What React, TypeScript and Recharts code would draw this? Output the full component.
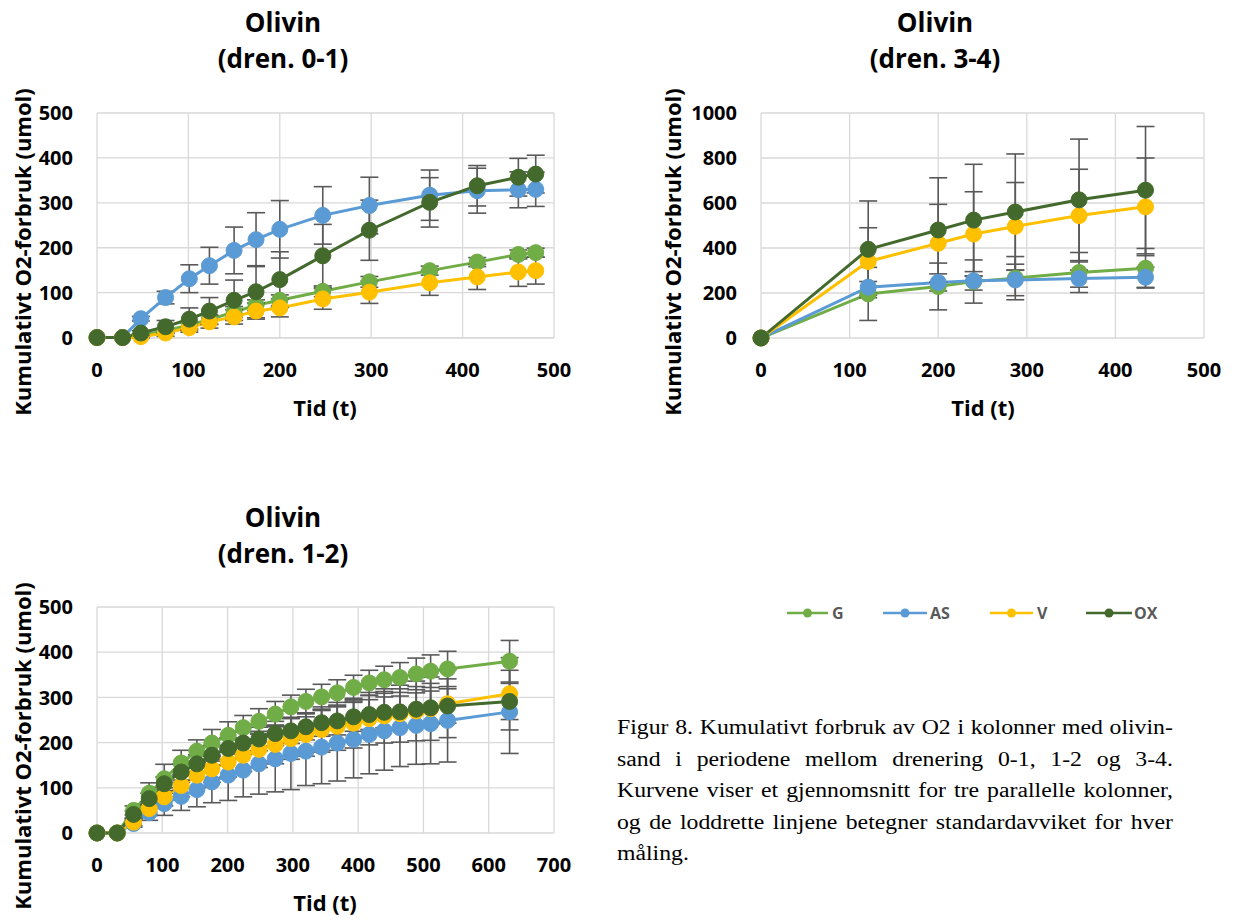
import React from 'react';
import { LineChart, Line, XAxis, YAxis, CartesianGrid, ErrorBar } from 'recharts';

const FONT = "'Open Sans', sans-serif";
const SERIF = "'Liberation Serif', 'Times New Roman', serif";

const SERIES = ['G', 'AS', 'V', 'OX'];
const COLORS: Record<string, string> = { G: '#70AD47', AS: '#5B9BD5', V: '#FFC000', OX: '#436A2C' };
const ERR_COLOR = '#595959';
const GRID_COLOR = '#D9D9D9';

// ---- Olivin (dren. 0-1)
const T1 = [0, 28, 48, 75, 101, 123, 150, 174, 200, 247, 298, 364, 416, 461, 480];
const G1 = [0, 0, 5, 15, 28, 40, 57, 72, 83, 103, 124, 149, 168, 185, 189];
const AS1 = [0, 0, 42, 89, 131, 160, 194, 218, 241, 272, 294, 317, 327, 329, 330];
const V1 = [0, 0, 2, 10, 22, 35, 46, 59, 66, 86, 101, 122, 135, 146, 149];
const OX1 = [0, 0, 10, 24, 41, 59, 83, 102, 129, 182, 239, 301, 338, 357, 364];
const G1e = [0, 0, 3, 6, 8, 10, 12, 12, 12, 12, 12, 10, 10, 10, 10];
const AS1e = [0, 0, 5, 14, 31, 41, 52, 60, 64, 64, 63, 56, 50, 40, 38];
const V1e = [0, 0, 3, 7, 10, 14, 16, 18, 20, 23, 25, 28, 28, 32, 30];
const OX1e = [0, 0, 5, 14, 25, 30, 45, 58, 62, 70, 67, 55, 45, 42, 42];

// ---- Olivin (dren. 3-4)
const T2 = [0, 121, 200, 240, 287, 359, 434];
const G2 = [0, 196, 229, 251, 266, 291, 310];
const AS2 = [0, 226, 247, 254, 258, 264, 270];
const V2 = [0, 340, 421, 462, 496, 544, 583];
const OX2 = [0, 394, 480, 524, 560, 614, 657];
const G2e = [0, 118, 104, 96, 96, 89, 88];
const AS2e = [0, 25, 38, 41, 70, 38, 45];
const V2e = [0, 150, 173, 188, 195, 206, 217];
const OX2e = [0, 215, 232, 248, 258, 270, 283];

// ---- Olivin (dren. 1-2)
const T3 = [0, 31, 56, 80, 103, 129, 153, 176, 201, 224, 248, 273, 297, 320, 344, 368, 393, 417, 440, 464, 489, 511, 537, 632];
const G3 = [0, 0, 50, 88, 120, 155, 181, 199, 216, 233, 247, 263, 279, 291, 301, 310, 322, 332, 339, 344, 352, 358, 363, 380];
const AS3 = [0, 0, 21, 45, 65, 81, 96, 113, 128, 139, 153, 164, 176, 181, 190, 199, 207, 218, 226, 233, 238, 242, 249, 268];
const V3 = [0, 0, 24, 54, 80, 105, 128, 142, 157, 172, 185, 196, 209, 218, 229, 236, 243, 253, 259, 264, 270, 275, 286, 308];
const OX3 = [0, 0, 41, 76, 109, 135, 153, 172, 187, 199, 208, 220, 226, 235, 244, 248, 257, 262, 267, 268, 274, 277, 281, 291];
const G3e = [0, 0, 10, 23, 32, 28, 25, 30, 30, 27, 28, 28, 26, 27, 28, 29, 27, 28, 30, 33, 35, 36, 39, 46];
const AS3e = [0, 0, 8, 17, 26, 31, 38, 46, 56, 59, 67, 73, 80, 76, 81, 84, 85, 87, 87, 86, 86, 89, 92, 92];
const V3e = [0, 0, 8, 15, 20, 25, 28, 30, 33, 36, 40, 43, 46, 48, 50, 53, 55, 58, 60, 63, 66, 70, 75, 80];
const OX3e = [0, 0, 8, 12, 15, 18, 20, 22, 24, 25, 26, 27, 28, 29, 30, 31, 32, 33, 34, 35, 36, 37, 38, 40];

const X_TICKS_500 = [0, 100, 200, 300, 400, 500];
const X_TICKS_700 = [0, 100, 200, 300, 400, 500, 600, 700];
const Y_TICKS_500 = [0, 100, 200, 300, 400, 500];
const Y_TICKS_1000 = [0, 200, 400, 600, 800, 1000];

const TITLE = 'Olivin';
const SUB1 = '(dren. 0-1)';
const SUB2 = '(dren. 3-4)';
const SUB3 = '(dren. 1-2)';
const Y_LABEL = 'Kumulativt O2-forbruk (umol)';
const X_LABEL = 'Tid (t)';
const CAPTION_LINES = [
  'Figur 8. Kumulativt forbruk av O2 i kolonner med olivin-',
  'sand i periodene mellom drenering 0-1, 1-2 og 3-4.',
  'Kurvene viser et gjennomsnitt for tre parallelle kolonner,',
  'og de loddrette linjene betegner standardavviket for hver',
  'måling.',
];

function buildRows(t: number[], g: number[], as: number[], v: number[], ox: number[], ge: number[], ase: number[], ve: number[], oxe: number[]) {
  return t.map((x, i) => ({ t: x, G: g[i], AS: as[i], V: v[i], OX: ox[i], G_e: ge[i], AS_e: ase[i], V_e: ve[i], OX_e: oxe[i] }));
}

const DATA1 = buildRows(T1, G1, AS1, V1, OX1, G1e, AS1e, V1e, OX1e);
const DATA2 = buildRows(T2, G2, AS2, V2, OX2, G2e, AS2e, V2e, OX2e);
const DATA3 = buildRows(T3, G3, AS3, V3, OX3, G3e, AS3e, V3e, OX3e);

const tickStyle = { fill: '#000', fontSize: 20, fontWeight: 700, fontFamily: FONT };

type PanelProps = {
  left: number; top: number; data: any[]; xMax: number; xTicks: number[]; yMax: number; yTicks: number[];
  yAxisWidth: number; plotTop: number; plotHeight: number; plotWidth: number;
};

function Panel(p: PanelProps) {
  const W = p.yAxisWidth + p.plotWidth + 46;
  const H = p.plotTop + p.plotHeight + 30 + 40;
  return (
    <div style={{ position: 'absolute', left: p.left, top: p.top }}>
      <LineChart width={W} height={H} data={p.data} margin={{ top: p.plotTop, right: 46, left: 0, bottom: 40 }}>
        <CartesianGrid stroke={GRID_COLOR} strokeWidth={1.3} />
        <XAxis type="number" dataKey="t" domain={[0, p.xMax]} ticks={p.xTicks} interval={0}
          axisLine={false} tickLine={false} tickSize={0} tickMargin={25} height={30} tick={tickStyle} />
        <YAxis type="number" domain={[0, p.yMax]} ticks={p.yTicks} interval={0}
          axisLine={false} tickLine={false} tickSize={0} tickMargin={24} width={p.yAxisWidth} tick={tickStyle} />
        {SERIES.map((k) => (
          <Line key={k} type="linear" dataKey={k} stroke={COLORS[k]} strokeWidth={3}
            dot={{ r: 8, fill: COLORS[k], stroke: COLORS[k], strokeWidth: 1 }}
            activeDot={false} isAnimationActive={false}>
            <ErrorBar dataKey={k + '_e'} direction="y" width={9} stroke={ERR_COLOR} strokeWidth={1.6} isAnimationActive={false} />
          </Line>
        ))}
      </LineChart>
    </div>
  );
}

const LEGEND_POS = [
  { k: 'G', x1: 787, x2: 828, tx: 832 },
  { k: 'AS', x1: 883, x2: 927, tx: 930 },
  { k: 'V', x1: 990, x2: 1033, tx: 1037 },
  { k: 'OX', x1: 1086, x2: 1132, tx: 1134 },
];

export default function App() {
  return (
    <div style={{ position: 'absolute', left: 0, top: 0, width: 1239, height: 920, background: '#fff', overflow: 'hidden' }}>
      <Panel left={0} top={0} data={DATA1} xMax={500} xTicks={X_TICKS_500} yMax={500} yTicks={Y_TICKS_500}
        yAxisWidth={97} plotTop={113} plotHeight={225} plotWidth={457} />
      <Panel left={650} top={0} data={DATA2} xMax={500} xTicks={X_TICKS_500} yMax={1000} yTicks={Y_TICKS_1000}
        yAxisWidth={111} plotTop={113} plotHeight={225} plotWidth={443} />
      <Panel left={0} top={490} data={DATA3} xMax={700} xTicks={X_TICKS_700} yMax={500} yTicks={Y_TICKS_500}
        yAxisWidth={97} plotTop={117} plotHeight={226} plotWidth={457} />

      <svg width={1239} height={920} style={{ position: 'absolute', left: 0, top: 0, pointerEvents: 'none' }}>
        <g fontFamily={FONT} fontWeight={700} fill="#000" textAnchor="middle">
          <text x={283} y={32} fontSize={26}>{TITLE}</text>
          <text x={283} y={68} fontSize={26}>{SUB1}</text>
          <text x={935} y={32} fontSize={26}>{TITLE}</text>
          <text x={935} y={68} fontSize={26}>{SUB2}</text>
          <text x={283} y={527} fontSize={26}>{TITLE}</text>
          <text x={283} y={563} fontSize={26}>{SUB3}</text>

          <text x={325} y={416} fontSize={22}>{X_LABEL}</text>
          <text x={983} y={416} fontSize={22}>{X_LABEL}</text>
          <text x={325} y={911} fontSize={22}>{X_LABEL}</text>

          <text x={31} y={252} fontSize={22} transform="rotate(-90 31 252)">{Y_LABEL}</text>
          <text x={681} y={252} fontSize={22} transform="rotate(-90 681 252)">{Y_LABEL}</text>
          <text x={31} y={746} fontSize={22} transform="rotate(-90 31 746)">{Y_LABEL}</text>
        </g>
        <g>
          {LEGEND_POS.map((l) => (
            <g key={l.k}>
              <line x1={l.x1} y1={613} x2={l.x2} y2={613} stroke={COLORS[l.k]} strokeWidth={2.5} />
              <circle cx={(l.x1 + l.x2) / 2} cy={613} r={4.5} fill={COLORS[l.k]} />
              <text x={l.tx} y={619} fontFamily={FONT} fontWeight={700} fontSize={16} fill="#595959">{l.k}</text>
            </g>
          ))}
        </g>
      </svg>

      <div style={{ position: 'absolute', left: 617, top: 712, width: 480, transform: 'scaleX(1.158)', transformOrigin: 'left top',
        fontFamily: SERIF, fontSize: 20.5, lineHeight: '31.5px', color: '#000' }}>
        {CAPTION_LINES.map((ln, i) => (
          <div key={i} style={{ textAlign: 'justify', textAlignLast: i < CAPTION_LINES.length - 1 ? 'justify' : 'left', whiteSpace: 'normal' }}>{ln}</div>
        ))}
      </div>
    </div>
  );
}
